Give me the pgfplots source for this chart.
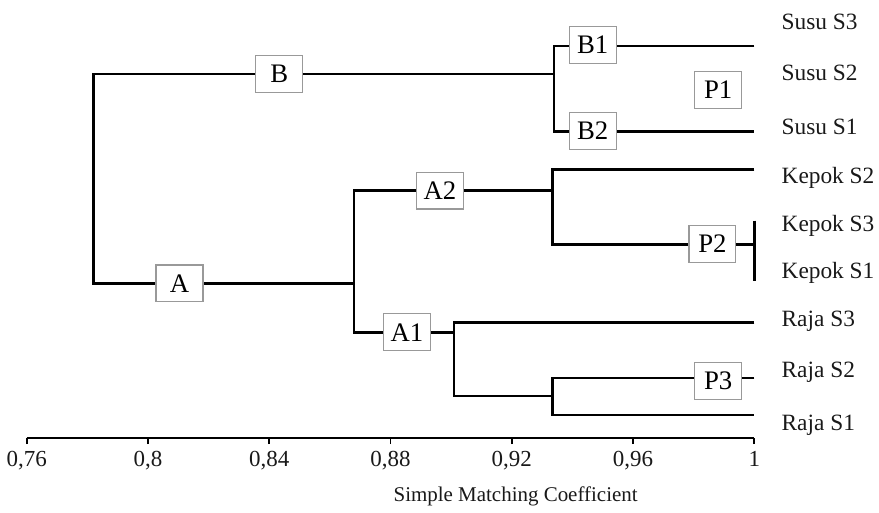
\documentclass[border=0pt]{standalone}
\usepackage{fontspec}
\setmainfont{Liberation Serif}
\usepackage{pgfplots}
\pgfplotsset{compat=1.18}

\begin{document}
\begin{tikzpicture}
\begin{axis}[
scale only axis,
width=364.5pt,
height=219.5pt,
xmin=0.76, xmax=1,
ymin=69, ymax=508,
clip=false,
axis x line=bottom,
axis y line=none,
axis line style={black, line width=1.2pt, -},
xtick={0.76,0.8,0.84,0.88,0.92,0.96,1},
xticklabels={{0,76},{0,8},{0,84},{0,88},{0,92},{0,96},{1}},
xtick pos=bottom,
tick align=outside,
major tick length=3pt,
xtick style={black, line width=0.9pt},
ytick=\empty,
/pgf/number format/assume math mode=true,
tick label style={font=\fontsize{11.5}{13}\selectfont, text=black!90},
xlabel={Simple Matching Coefficient},
xlabel style={font=\fontsize{10.5}{12}\selectfont, text=black!90,
  at={(axis description cs:0.672,0)}, anchor=center, yshift=-29pt},
cycle list={{black, solid, mark=none}},
every axis plot post/.append style={line width=1.25pt},
]
% cluster B / A from the root
\addplot coordinates {(0.934,434) (0.782,434) (0.782,224) (0.868,224)};
% B1 / B2
\addplot coordinates {(1,462) (0.934,462) (0.934,376) (1,376)};
% A2 / A1
\addplot coordinates {(0.9335,317) (0.868,317) (0.868,175) (0.901,175)};
% Kepok
\addplot coordinates {(1,338) (0.9335,338) (0.9335,263) (1,263)};
\addplot coordinates {(1,287) (1,226)};
% Raja
\addplot coordinates {(1,185) (0.901,185) (0.901,111) (0.9335,111)};
\addplot coordinates {(1,129) (0.9335,129) (0.9335,92) (1,92)};

% group boxes
\tikzset{grp/.style={draw=black!40, line width=0.6pt, fill=white,
  minimum width=23.5pt, minimum height=18.5pt, inner sep=0pt,
  font=\fontsize{13.4}{15}\selectfont, text=black}}
\node[grp] at (axis cs:0.8433,434) {B};
\node[grp] at (axis cs:0.8104,224) {A};
\node[grp] at (axis cs:0.8963,317) {A2};
\node[grp] at (axis cs:0.8854,175) {A1};
\node[grp] at (axis cs:0.9467,463) {B1};
\node[grp] at (axis cs:0.9467,377) {B2};
\node[grp] at (axis cs:0.9881,418) {P1};
\node[grp] at (axis cs:0.9862,263.5) {P2};
\node[grp] at (axis cs:0.9881,126) {P3};

% leaf names
\tikzset{leaf/.style={anchor=west, inner sep=0pt,
  font=\fontsize{11.7}{13}\selectfont, text=black!90}}
\node[leaf] at (axis cs:1.0089,486) {Susu S3};
\node[leaf] at (axis cs:1.0089,435) {Susu S2};
\node[leaf] at (axis cs:1.0089,381) {Susu S1};
\node[leaf] at (axis cs:1.0089,330) {Kepok S2};
\node[leaf] at (axis cs:1.0089,282) {Kepok S3};
\node[leaf] at (axis cs:1.0089,235) {Kepok S1};
\node[leaf] at (axis cs:1.0089,186) {Raja S3};
\node[leaf] at (axis cs:1.0089,135) {Raja S2};
\node[leaf] at (axis cs:1.0089,82) {Raja S1};

% page frame of the reference
\path (axis cs:0.75177,0) rectangle (axis cs:1.04115,508);
\end{axis}
\end{tikzpicture}
\end{document}
